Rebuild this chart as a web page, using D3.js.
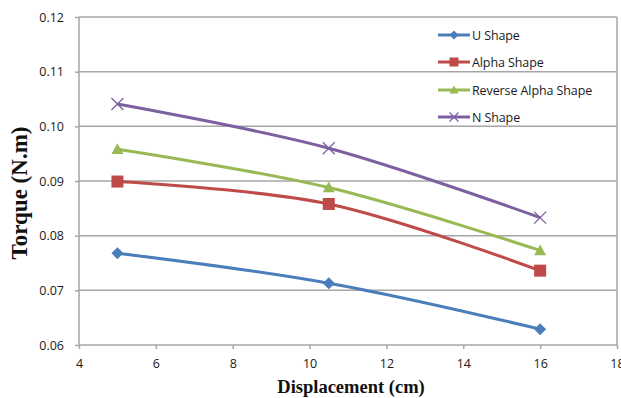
<!DOCTYPE html>
<html>
<head>
<meta charset="utf-8">
<script src="https://cdn.jsdelivr.net/npm/d3@7"></script>
<style>
  body { margin: 0; background: #fff; }
  svg { display: block; }
</style>
</head>
<body>
<div id="chart"></div>
<script>
// data
const displacement = [5, 10.5, 16];
const uShape = [0.0768, 0.0713, 0.0629];
const alphaShape = [0.0899, 0.0858, 0.0736];
const reverseAlphaShape = [0.0958, 0.0888, 0.0773];
const nShape = [0.1041, 0.0960, 0.0833];

const seriesNames = ["U Shape", "Alpha Shape", "Reverse Alpha Shape", "N Shape"];
const seriesColors = ["#4a7ebb", "#be4b48", "#98b954", "#7d60a0"];
const seriesMarkers = ["diamond", "square", "triangle", "x"];
const xTicks = [4, 6, 8, 10, 12, 14, 16, 18];
const yTicks = [0.06, 0.07, 0.08, 0.09, 0.10, 0.11, 0.12];

const w = 621, h = 398;
const plotLeft = 79, plotRight = 617, plotTop = 17, plotBottom = 345;

const svg = d3.select("#chart").append("svg")
  .attr("width", w)
  .attr("height", h);

const x = d3.scaleLinear().domain([4, 18]).range([plotLeft, plotRight]);
const y = d3.scaleLinear().domain([0.06, 0.12]).range([plotBottom, plotTop]);

// gridlines
svg.append("g")
  .selectAll("line")
  .data(yTicks.slice(1))
  .enter().append("line")
  .attr("x1", plotLeft).attr("x2", plotRight)
  .attr("y1", d => y(d)).attr("y2", d => y(d))
  .attr("stroke", "#a6a6a6")
  .attr("stroke-width", 1.5);

// right border
svg.append("line")
  .attr("x1", plotRight).attr("x2", plotRight)
  .attr("y1", plotTop).attr("y2", plotBottom)
  .attr("stroke", "#a6a6a6")
  .attr("stroke-width", 1.5);

const xAxis = d3.axisBottom(x).tickValues(xTicks).tickSize(4).tickPadding(10).tickFormat(d3.format("d"));
const yAxis = d3.axisLeft(y).tickValues(yTicks).tickSize(4).tickPadding(11).tickFormat(d3.format(".2f"));

const gx = svg.append("g")
  .attr("transform", "translate(0," + plotBottom + ")")
  .call(xAxis);
const gy = svg.append("g")
  .attr("transform", "translate(" + plotLeft + ",0)")
  .call(yAxis);

[gx, gy].forEach(g => {
  g.select(".domain").attr("stroke", "#a6a6a6").attr("stroke-width", 1.5);
  g.selectAll(".tick line").attr("stroke", "#a6a6a6").attr("stroke-width", 1.5);
  g.selectAll(".tick text")
    .attr("font-family", "'Open Sans', sans-serif")
    .attr("font-size", "12.5px")
    .attr("fill", "#1a1a1a");
});
gy.select(".domain").attr("d", "M0," + plotBottom + "V" + plotTop);
gx.select(".domain").attr("d", "M" + plotLeft + ",0H" + plotRight);

// series
const allSeries = [uShape, alphaShape, reverseAlphaShape, nShape];

const line = d3.line()
  .x((d, i) => x(displacement[i]))
  .y(d => y(d))
  .curve(d3.curveCatmullRom.alpha(0.5));

function marker(g, type, color, size) {
  if (type === "diamond") {
    g.append("path").attr("d", `M0,${-size}L${size},0L0,${size}L${-size},0Z`).attr("fill", color);
  } else if (type === "square") {
    g.append("rect").attr("x", -size).attr("y", -size).attr("width", 2 * size).attr("height", 2 * size).attr("fill", color);
  } else if (type === "triangle") {
    g.append("path").attr("d", `M0,${-size}L${size},${size * 0.8}L${-size},${size * 0.8}Z`).attr("fill", color);
  } else {
    g.append("path").attr("d", `M${-size},${-size}L${size},${size}M${-size},${size}L${size},${-size}`)
      .attr("stroke", color).attr("stroke-width", 1.3).attr("fill", "none");
  }
}

allSeries.forEach((vals, s) => {
  svg.append("path")
    .datum(vals)
    .attr("d", line)
    .attr("fill", "none")
    .attr("stroke", seriesColors[s])
    .attr("stroke-width", 3);
  vals.forEach((v, i) => {
    const g = svg.append("g").attr("transform", "translate(" + x(displacement[i]) + "," + y(v) + ")");
    marker(g, seriesMarkers[s], seriesColors[s], 6);
  });
});

// legend
const legendY = [35, 62, 90, 117];
seriesNames.forEach((name, s) => {
  const ly = legendY[s];
  svg.append("line")
    .attr("x1", 438).attr("x2", 470)
    .attr("y1", ly).attr("y2", ly)
    .attr("stroke", seriesColors[s])
    .attr("stroke-width", 3);
  const g = svg.append("g").attr("transform", "translate(454," + ly + ")");
  marker(g, seriesMarkers[s], seriesColors[s], 4.5);
  svg.append("text")
    .attr("x", 472).attr("y", ly + 4.5)
    .attr("font-family", "'Open Sans', sans-serif")
    .attr("font-size", "12.5px")
    .attr("letter-spacing", "-0.1px")
    .attr("fill", "#1a1a1a")
    .text(name);
});

// axis titles
svg.append("text")
  .attr("x", 351).attr("y", 393)
  .attr("text-anchor", "middle")
  .attr("font-family", "'Liberation Serif', 'Times New Roman', serif")
  .attr("font-weight", "bold")
  .attr("font-size", "18.5px")
  .attr("fill", "#111")
  .text("Displacement (cm)");

svg.append("text")
  .attr("transform", "translate(27,193) rotate(-90)")
  .attr("text-anchor", "middle")
  .attr("font-family", "'Liberation Serif', 'Times New Roman', serif")
  .attr("font-weight", "bold")
  .attr("font-size", "23px")
  .attr("fill", "#111")
  .text("Torque (N.m)");
</script>
</body>
</html>
